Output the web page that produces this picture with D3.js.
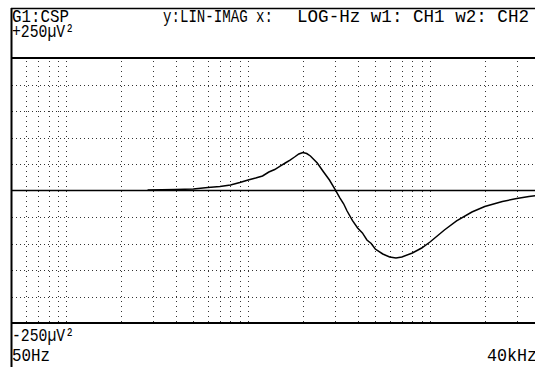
<!DOCTYPE html>
<html>
<head>
<meta charset="utf-8">
<script src="https://cdn.jsdelivr.net/npm/d3@7"></script>
<style>
  body { margin: 0; background: #fff; }
  text { font-family: "Liberation Mono", "DejaVu Sans Mono", monospace; fill: #000; }
</style>
</head>
<body>
<div class="chart"></div>
<script>
var w = 535,
    h = 367;

// cross spectrum, imaginary part (uV^2) vs frequency (Hz)
var freqs = [280, 400, 500, 600, 700, 800, 900, 1000, 1100, 1200, 1300, 1400, 1500,
             1600, 1700, 1800, 1900, 2000, 2100, 2200, 2400, 2600, 2800, 3000, 3200,
             3350, 3500, 3750, 4000, 4250, 4500, 4750, 5000, 5500, 6000, 6500, 7000,
             8000, 9000, 10000, 12000, 14000, 17000, 20000, 25000, 30000, 35000, 40000];
var values = [0.9, 1.9, 2.8, 5.7, 7.5, 10.4, 15, 19.8, 23.6, 27.4, 34.9, 39.6, 46.2,
              51.9, 57.5, 63.2, 68.9, 71.7, 69.8, 65.1, 51.9, 34.9, 19.8, 2.8, -14.2,
              -25, -38.7, -57, -70.8, -80, -93.4, -100, -110.4, -119.8, -125.5, -127.4, -125.5,
              -117.9, -108.5, -97.2, -74.5, -57.5, -40.6, -30.2, -20.8, -15.1, -11.3, -8.5];

var gridFreqs = [60, 70, 80, 90, 100, 200, 300, 400, 500, 600, 700, 800, 900, 1000,
                 2000, 3000, 4000, 5000, 6000, 7000, 8000, 9000, 10000, 20000, 30000];
var gridValues = [-200, -150, -100, -50, 50, 100, 150, 200];

var headerLeft = ["G1:CSP", "+250\u00b5V\u00b2"];
var headerRight = ["y:LIN-IMAG x:", "LOG-Hz w1: CH1 w2: CH2"];
var footerLeft = ["-250\u00b5V\u00b2", "50Hz"];
var footerRight = "40kHz";

var svg = d3.select("body").select(".chart").append("svg")
  .attr("width", w)
  .attr("height", h);

var x = d3.scaleLog().domain([50, 40000]).range([11.5, 539.5]);
var y = d3.scaleLinear().domain([-250, 250]).range([323, 58]);

// dotted grid
svg.selectAll("line.hgrid")
   .data(gridValues)
   .enter()
   .append("line")
   .attr("x1", 12)
   .attr("x2", w)
   .attr("y1", function(d) { return Math.round(y(d)) + 0.5; })
   .attr("y2", function(d) { return Math.round(y(d)) + 0.5; })
   .style("stroke", "#333")
   .style("stroke-dasharray", "1,3");

svg.selectAll("line.vgrid")
   .data(gridFreqs)
   .enter()
   .append("line")
   .attr("x1", function(d) { return Math.round(x(d)) + 0.5; })
   .attr("x2", function(d) { return Math.round(x(d)) + 0.5; })
   .attr("y1", y(250) + 3)
   .attr("y2", y(-250))
   .style("stroke", "#333")
   .style("stroke-dasharray", "1,4");

// frame lines
function hline(yy, sw) {
  svg.append("line")
     .attr("x1", 11).attr("x2", w)
     .attr("y1", yy).attr("y2", yy)
     .style("stroke", "#000")
     .style("stroke-width", sw);
}
hline(8.5, 1.5);
hline(y(250), 2);
hline(y(0), 1.5);
hline(y(-250), 2);

svg.append("line")
   .attr("x1", 11.5).attr("x2", 11.5)
   .attr("y1", 8).attr("y2", h)
   .style("stroke", "#000")
   .style("stroke-width", 2);

// curve
var line = d3.line()
  .x(function(d, i) { return x(freqs[i]); })
  .y(function(d) { return y(d); });

svg.append("path")
   .attr("d", line(values))
   .style("fill", "none")
   .style("stroke", "#000")
   .style("stroke-width", 1.5);

// labels
function label(t, xx, yy, len) {
  svg.append("text")
     .attr("x", xx)
     .attr("y", yy)
     .attr("textLength", len)
     .attr("lengthAdjust", "spacingAndGlyphs")
     .style("font-size", "19px")
     .text(t);
}
label(headerLeft[0], 12, 22, 57);
label(headerLeft[1], 12, 37, 62);
label(headerRight[0], 163, 22, 110);
label(headerRight[1], 297, 22, 232);
label(footerLeft[0], 12, 341, 62);
label(footerLeft[1], 12, 361, 38);
label(footerRight, 487, 361, 50);
</script>
</body>
</html>
